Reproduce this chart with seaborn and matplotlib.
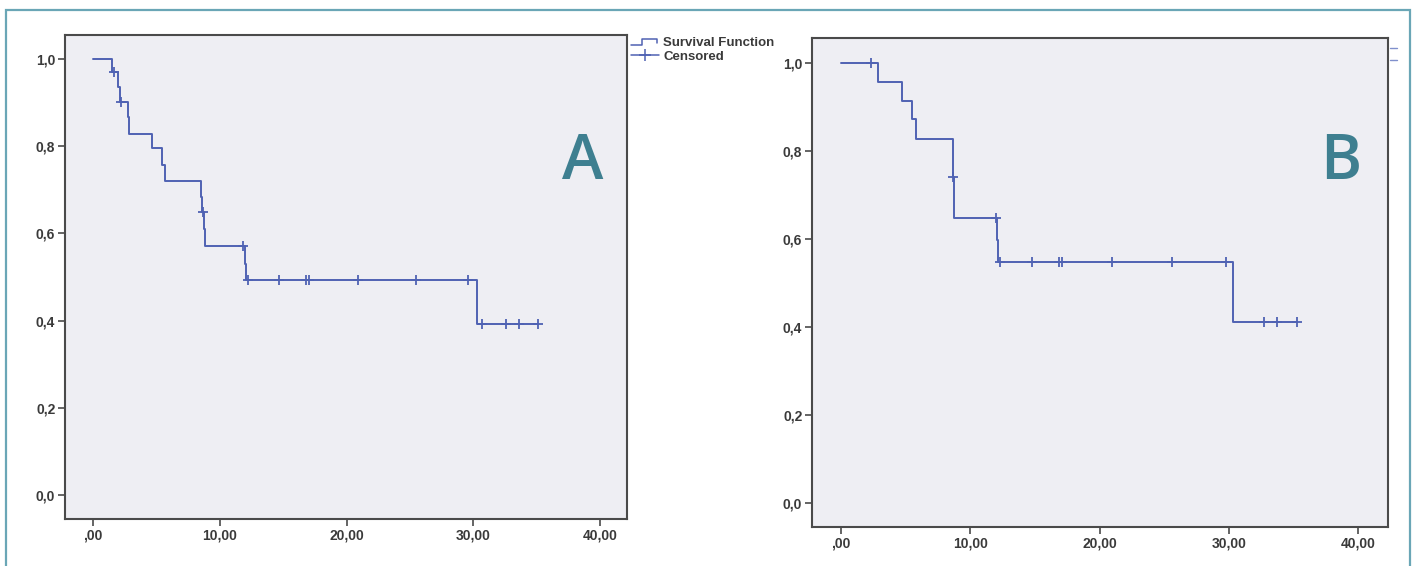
import matplotlib
matplotlib.use("Agg")
import matplotlib.pyplot as plt
import seaborn as sns
import pandas as pd
from matplotlib.lines import Line2D
from matplotlib.patches import Rectangle
from matplotlib.legend_handler import HandlerBase

# ---------------- data ----------------
a_time = [0, 1.52, 2.0, 2.1, 2.73, 2.87, 4.68, 5.42, 5.71, 8.55, 8.6, 8.75, 8.8, 11.95, 12.05, 30.28, 35.1]
a_surv = [1.0, 0.971, 0.935, 0.902, 0.866, 0.829, 0.795, 0.757, 0.720, 0.684, 0.649, 0.61, 0.572, 0.53, 0.492, 0.393, 0.393]
a_cens_time = [1.66, 2.2, 8.65, 11.85, 12.26, 14.68, 16.8, 17.07, 20.9, 25.5, 29.6, 30.67, 32.6, 33.6, 35.1]
a_cens_surv = [0.971, 0.902, 0.649, 0.572, 0.492, 0.492, 0.492, 0.492, 0.492, 0.492, 0.492, 0.393, 0.393, 0.393, 0.393]

b_time = [0, 2.83, 4.74, 5.46, 5.8, 8.63, 8.73, 12.03, 12.13, 30.35, 35.24]
b_surv = [1.0, 0.958, 0.914, 0.872, 0.828, 0.740, 0.648, 0.598, 0.548, 0.411, 0.411]
b_cens_time = [2.32, 8.68, 11.95, 12.29, 14.76, 16.87, 17.13, 20.96, 25.6, 29.75, 32.68, 33.74, 35.24]
b_cens_surv = [1.0, 0.740, 0.648, 0.548, 0.548, 0.548, 0.548, 0.548, 0.548, 0.548, 0.411, 0.411, 0.411]

y_ticks = [0.0, 0.2, 0.4, 0.6, 0.8, 1.0]
y_tick_labels = ["0,0", "0,2", "0,4", "0,6", "0,8", "1,0"]
x_ticks = [0, 10, 20, 30, 40]
x_tick_labels = [",00", "10,00", "20,00", "30,00", "40,00"]
legend_labels = ["Survival Function", "Censored"]
panel_labels = ["A", "B"]

# ---------------- style ----------------
sns.set_theme(style="white")
plt.rcParams["font.family"] = ["Liberation Sans", "DejaVu Sans"]

LINE = "#4f62b3"
BG = "#eeeef3"
SPINE = "#4a4a4a"
TXT = "#3a3a3a"
TEAL = "#3e7f90"

W, H = 1416, 566
fig = plt.figure(figsize=(W / 100, H / 100), dpi=100)
fig.patch.set_facecolor("white")

# outer border
fig.patches.append(Rectangle((6 / W, -0.05), (1410 - 6) / W, (H - 10) / H + 0.05,
                             transform=fig.transFigure, fill=False,
                             edgecolor="#6aa6b6", linewidth=1.6))


def px_axes(left, top, right, bottom):
    return fig.add_axes([left / W, (H - bottom) / H, (right - left) / W, (bottom - top) / H])


class StepHandler(HandlerBase):
    def create_artists(self, legend, orig_handle, xdescent, ydescent, width, height, fontsize, trans):
        xs = [0, 0.38 * width, 0.38 * width, 0.95 * width, 0.95 * width]
        ys = [0.15 * height, 0.15 * height, 0.75 * height, 0.75 * height, 0.4 * height]
        ln = Line2D([x - xdescent for x in xs], [y - ydescent for y in ys],
                    color=LINE, linewidth=1.1, transform=trans)
        return [ln]


def panel(ax, t, s, ct, cs, xlim, ylim, label, label_xy):
    ax.set_facecolor(BG)
    sns.lineplot(x=t, y=s, ax=ax, drawstyle="steps-post", estimator=None, sort=False,
                 color=LINE, linewidth=1.4)
    sns.scatterplot(x=ct, y=cs, ax=ax, marker="+", s=60, color=LINE, linewidth=1.3, zorder=3)
    ax.set_xlim(*xlim)
    ax.set_ylim(*ylim)
    ax.set_xticks(x_ticks)
    ax.set_xticklabels(x_tick_labels)
    ax.set_yticks(y_ticks)
    ax.set_yticklabels(y_tick_labels)
    for sp in ax.spines.values():
        sp.set_visible(True)
        sp.set_color(SPINE)
        sp.set_linewidth(1.5)
    ax.tick_params(axis="both", direction="out", length=5, width=1.2, color=SPINE,
                   labelsize=10, labelcolor=TXT, pad=2, left=True, bottom=True)
    for lab in ax.get_xticklabels() + ax.get_yticklabels():
        lab.set_fontweight("bold")
    ax.set_xlabel("")
    ax.set_ylabel("")
    ax.grid(False)
    ax.text(label_xy[0] / W, 1 - label_xy[1] / H, label, transform=fig.transFigure,
            ha="center", va="baseline", fontsize=45, color=TEAL,
            family=["Open Sans", "DejaVu Sans"], fontweight="semibold")


axA = px_axes(65, 35, 627, 519)
panel(axA, a_time, a_surv, a_cens_time, a_cens_surv, (-2.2, 42.1), (-0.055, 1.055),
      panel_labels[0], (583, 179))

handles = [Line2D([], [], color=LINE),
           Line2D([], [], color=LINE, linewidth=1.1, marker="+", markersize=9, markeredgewidth=1.1)]
leg = axA.legend(handles, legend_labels, loc="upper left",
                 bbox_to_anchor=(631 / W, 1 - 37 / H),
                 bbox_transform=fig.transFigure, frameon=False, fontsize=9.5,
                 handlelength=2.1, handletextpad=0.35, borderpad=0, borderaxespad=0,
                 labelspacing=0.12, handler_map={handles[0]: StepHandler()})
for txt in leg.get_texts():
    txt.set_color(TXT)
    txt.set_fontweight("bold")

axB = px_axes(812, 38, 1388, 527)
panel(axB, b_time, b_surv, b_cens_time, b_cens_surv, (-2.24, 42.3), (-0.0545, 1.057),
      panel_labels[1], (1341, 179))

# clipped legend glyphs visible at the right edge of panel B
for yy in (48, 60):
    fig.add_artist(Line2D([1390 / W, 1397 / W], [1 - yy / H, 1 - yy / H],
                          transform=fig.transFigure, color="#8090cc", linewidth=1.0))

fig.savefig("out.png", dpi=100)
